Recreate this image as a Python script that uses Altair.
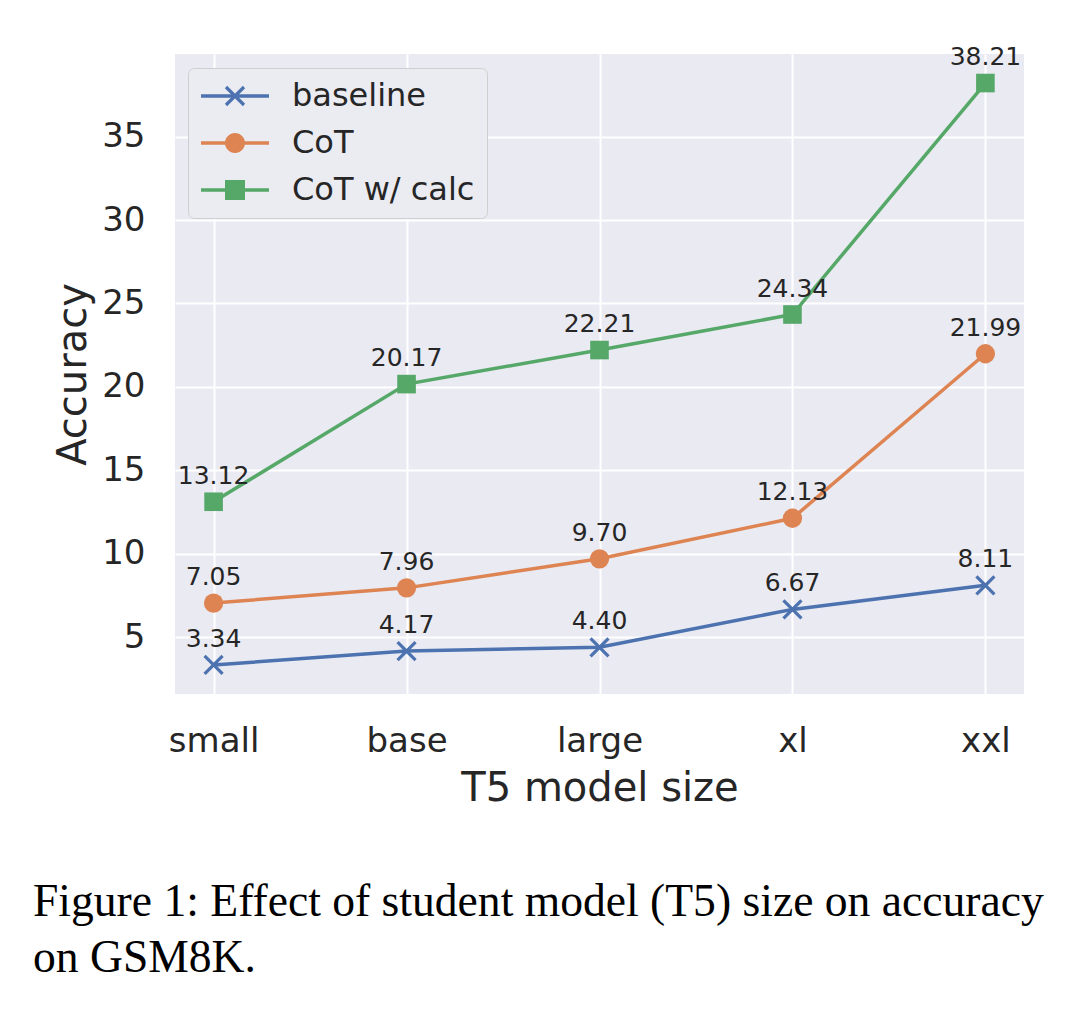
import altair as alt
import pandas as pd

sizes = ["small", "base", "large", "xl", "xxl"]
series_names = ["baseline", "CoT", "CoT w/ calc"]
baseline = [3.34, 4.17, 4.40, 6.67, 8.11]
cot = [7.05, 7.96, 9.70, 12.13, 21.99]
cot_calc = [13.12, 20.17, 22.21, 24.34, 38.21]
colors = ["#4C72B0", "#DD8452", "#55A868"]
caption_lines = ["Figure 1: Effect of student model (T5) size on accuracy", "on GSM8K."]
x_title = "T5 model size"
y_title = "Accuracy"
y_ticks = [5, 10, 15, 20, 25, 30, 35]

rows = []
for name, vals in zip(series_names, [baseline, cot, cot_calc]):
    for s, v in zip(sizes, vals):
        rows.append({"size": s, "series": name, "value": v})
df = pd.DataFrame(rows)

FONT = "DejaVu Sans"
TXT = "#262626"

# marker shapes (unit coordinates, filled)
X_ARMS = ("M-0.787,-1.013L1.013,0.787L0.787,1.013L-1.013,-0.787Z"
          "M-1.013,0.787L0.787,-1.013L1.013,-0.787L-0.787,1.013Z")
LINE = "M-3.4,-0.175H3.4V0.175H-3.4Z"
CIRCLE = "M-1,0A1,1,0,0,1,1,0A1,1,0,0,1,-1,0Z"
SQUARE = "M-1,-1H1V1H-1Z"

color_scale = alt.Scale(domain=series_names, range=colors)

x_enc = alt.X("size:N", sort=sizes,
              scale=alt.Scale(type="point", padding=0.2),
              axis=alt.Axis(title=x_title, labelAngle=0, labelFontSize=34, labelFont=FONT,
                            labelColor=TXT, labelPadding=30, ticks=False, domain=False,
                            grid=True, gridColor="white", gridWidth=2,
                            titleFont=FONT, titleFontSize=40, titleFontWeight="normal",
                            titleColor=TXT, titlePadding=10))
y_enc = alt.Y("value:Q",
              scale=alt.Scale(domain=[1.6, 39.95], nice=False, zero=False),
              axis=alt.Axis(title=y_title, values=y_ticks, labelFontSize=34, labelFont=FONT,
                            labelColor=TXT, labelPadding=30, ticks=False, domain=False,
                            grid=True, gridColor="white", gridWidth=2,
                            titleFont=FONT, titleFontSize=40, titleFontWeight="normal",
                            titleColor=TXT, titlePadding=8))

base = alt.Chart(df)

lines = base.mark_line(strokeWidth=3.5).encode(
    x=x_enc, y=y_enc,
    color=alt.Color("series:N", scale=color_scale, legend=None),
)

points = base.mark_point(filled=True, opacity=1).encode(
    x=x_enc, y=y_enc,
    color=alt.Color("series:N", scale=color_scale, legend=None),
    shape=alt.Shape("series:N", scale=alt.Scale(domain=series_names, range=[X_ARMS, "circle", "square"]), legend=None),
    size=alt.Size("series:N", scale=alt.Scale(domain=series_names, range=[400, 346, 400]), legend=None),
)

labels = base.mark_text(fontSize=25, font=FONT, color=TXT, baseline="alphabetic", align="center", dy=-18).encode(
    x=x_enc, y=y_enc,
    text=alt.Text("value:Q", format=".2f"),
)

leg = alt.Legend(title=None, orient="none", legendX=13, legendY=14, direction="vertical",
                 labelFont=FONT, labelFontSize=32, labelColor=TXT, labelLimit=0, symbolSize=400,
                 symbolStrokeWidth=0, symbolOffset=19, labelOffset=41, padding=12,
                 rowPadding=15, fillColor="#EBEBF2", strokeColor="#CFCFCF", cornerRadius=6,
                 symbolOpacity=1)

legend_layer = base.mark_point(filled=True, opacity=1, clip=True, size=400).encode(
    x=alt.value(-2000), y=alt.value(-2000),
    color=alt.Color("series:N", scale=color_scale, legend=leg),
    shape=alt.Shape("series:N", scale=alt.Scale(domain=series_names,
                    range=[LINE + X_ARMS, LINE + CIRCLE, LINE + SQUARE]), legend=leg),
)

cap_df1 = pd.DataFrame({"t": [caption_lines[0]]})
cap_df2 = pd.DataFrame({"t": [caption_lines[1]]})
cap1 = alt.Chart(cap_df1).mark_text(font="Liberation Serif", fontSize=45.6, color="black",
                                    align="left", baseline="alphabetic").encode(
    text="t:N", x=alt.value(-142), y=alt.value(862))
cap2 = alt.Chart(cap_df2).mark_text(font="Liberation Serif", fontSize=45.6, color="black",
                                    align="left", baseline="alphabetic").encode(
    text="t:N", x=alt.value(-142), y=alt.value(918))

chart = alt.layer(lines, points, labels, legend_layer, cap1, cap2).resolve_scale(
    color="independent", shape="independent"
).resolve_legend(color="independent", shape="independent").properties(
    width=849, height=640, autosize=alt.AutoSizeParams(type="none"),
    padding={"left": 175, "top": 54, "right": 56, "bottom": 324},
    background="white",
).configure_view(stroke=None, fill="#EAEAF2")

chart.save("out.html", embed_options={"renderer": "svg", "actions": False})
